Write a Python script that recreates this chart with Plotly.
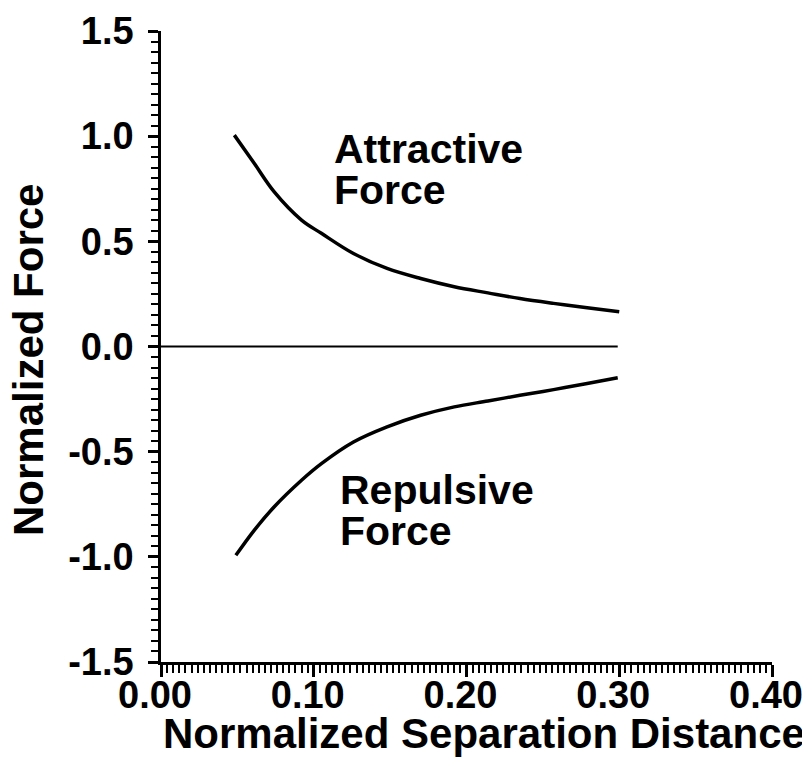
import plotly.graph_objects as go

# ---- data ----
sep_attr = [0.048, 0.061, 0.074, 0.092, 0.105, 0.126, 0.148, 0.170, 0.192, 0.214, 0.235, 0.257, 0.279, 0.300]
force_attr = [1.005, 0.871, 0.736, 0.601, 0.538, 0.442, 0.371, 0.323, 0.284, 0.255, 0.228, 0.205, 0.184, 0.165]

sep_rep = [0.049, 0.061, 0.074, 0.092, 0.105, 0.126, 0.148, 0.170, 0.192, 0.214, 0.235, 0.257, 0.279, 0.299]
force_rep = [-0.993, -0.874, -0.763, -0.636, -0.557, -0.454, -0.382, -0.327, -0.287, -0.259, -0.232, -0.205, -0.176, -0.149]

sep_zero = [0.0, 0.299]
force_zero = [0.0, 0.0]

x_tick_vals = [0.0, 0.1, 0.2, 0.3, 0.4]
x_tick_text = ["0.00", "0.10", "0.20", "0.30", "0.40"]
y_tick_vals = [-1.5, -1.0, -0.5, 0.0, 0.5, 1.0, 1.5]
y_tick_text = ["-1.5", "-1.0", "-0.5", "0.0", "0.5", "1.0", "1.5"]

FONT = "Liberation Sans, Arial, Helvetica, sans-serif"

fig = go.Figure()
fig.add_trace(go.Scatter(x=sep_attr, y=force_attr, mode="lines",
                         line=dict(color="black", width=3.5, shape="spline"), showlegend=False))
fig.add_trace(go.Scatter(x=sep_rep, y=force_rep, mode="lines",
                         line=dict(color="black", width=3.5, shape="spline"), showlegend=False))
fig.add_trace(go.Scatter(x=sep_zero, y=force_zero, mode="lines",
                         line=dict(color="black", width=2), showlegend=False))

tickfont = dict(family=FONT, size=38, color="black", weight=700)
labfont = dict(family=FONT, size=41, color="black", weight=700)
titlefont = dict(family=FONT, size=42, color="black", weight=700)

# the page body adds an 8 px margin, so the figure is 802 x 756
fig.update_layout(
    width=802, height=756,
    margin=dict(l=153, r=38, t=23, b=102, autoexpand=False),
    paper_bgcolor="white", plot_bgcolor="white",
    xaxis=dict(range=[0, 0.4], showgrid=False, zeroline=False, automargin=False,
               showline=True, linecolor="black", linewidth=2.5,
               ticks="outside", ticklen=12, tickwidth=2.5, tickcolor="black",
               tickvals=x_tick_vals, ticktext=x_tick_text, tickfont=tickfont,
               ticklabelstandoff=-14, ticklabelshift=-6,
               minor=dict(dtick=0.004, tick0=0, ticks="outside", ticklen=8,
                          tickwidth=2, tickcolor="black", showgrid=False)),
    yaxis=dict(range=[-1.5, 1.5], showgrid=False, zeroline=False, automargin=False,
               showline=True, linecolor="black", linewidth=2.5,
               ticks="outside", ticklen=10, tickwidth=2.5, tickcolor="black",
               tickvals=y_tick_vals, ticktext=y_tick_text, tickfont=tickfont,
               ticklabelstandoff=7,
               minor=dict(dtick=0.05, tick0=0, ticks="outside", ticklen=7,
                          tickwidth=2, tickcolor="black", showgrid=False)),
    annotations=[
        dict(text="Normalized Separation Distance", xref="paper", yref="paper",
             x=0.528, y=-0.114, xanchor="center", yanchor="middle",
             showarrow=False, font=titlefont),
        dict(text="Normalized Force", xref="paper", yref="paper",
             x=-0.2157, y=0.479, xanchor="center", yanchor="middle", textangle=-90,
             showarrow=False, font=titlefont),
        dict(text="Attractive", xref="x", yref="y", x=0.112, y=0.939,
             xanchor="left", yanchor="middle", showarrow=False, font=labfont),
        dict(text="Force", xref="x", yref="y", x=0.112, y=0.744,
             xanchor="left", yanchor="middle", showarrow=False, font=labfont),
        dict(text="Repulsive", xref="x", yref="y", x=0.116, y=-0.684,
             xanchor="left", yanchor="middle", showarrow=False, font=labfont),
        dict(text="Force", xref="x", yref="y", x=0.116, y=-0.877,
             xanchor="left", yanchor="middle", showarrow=False, font=labfont),
    ],
)

fig.write_html("out.html")
